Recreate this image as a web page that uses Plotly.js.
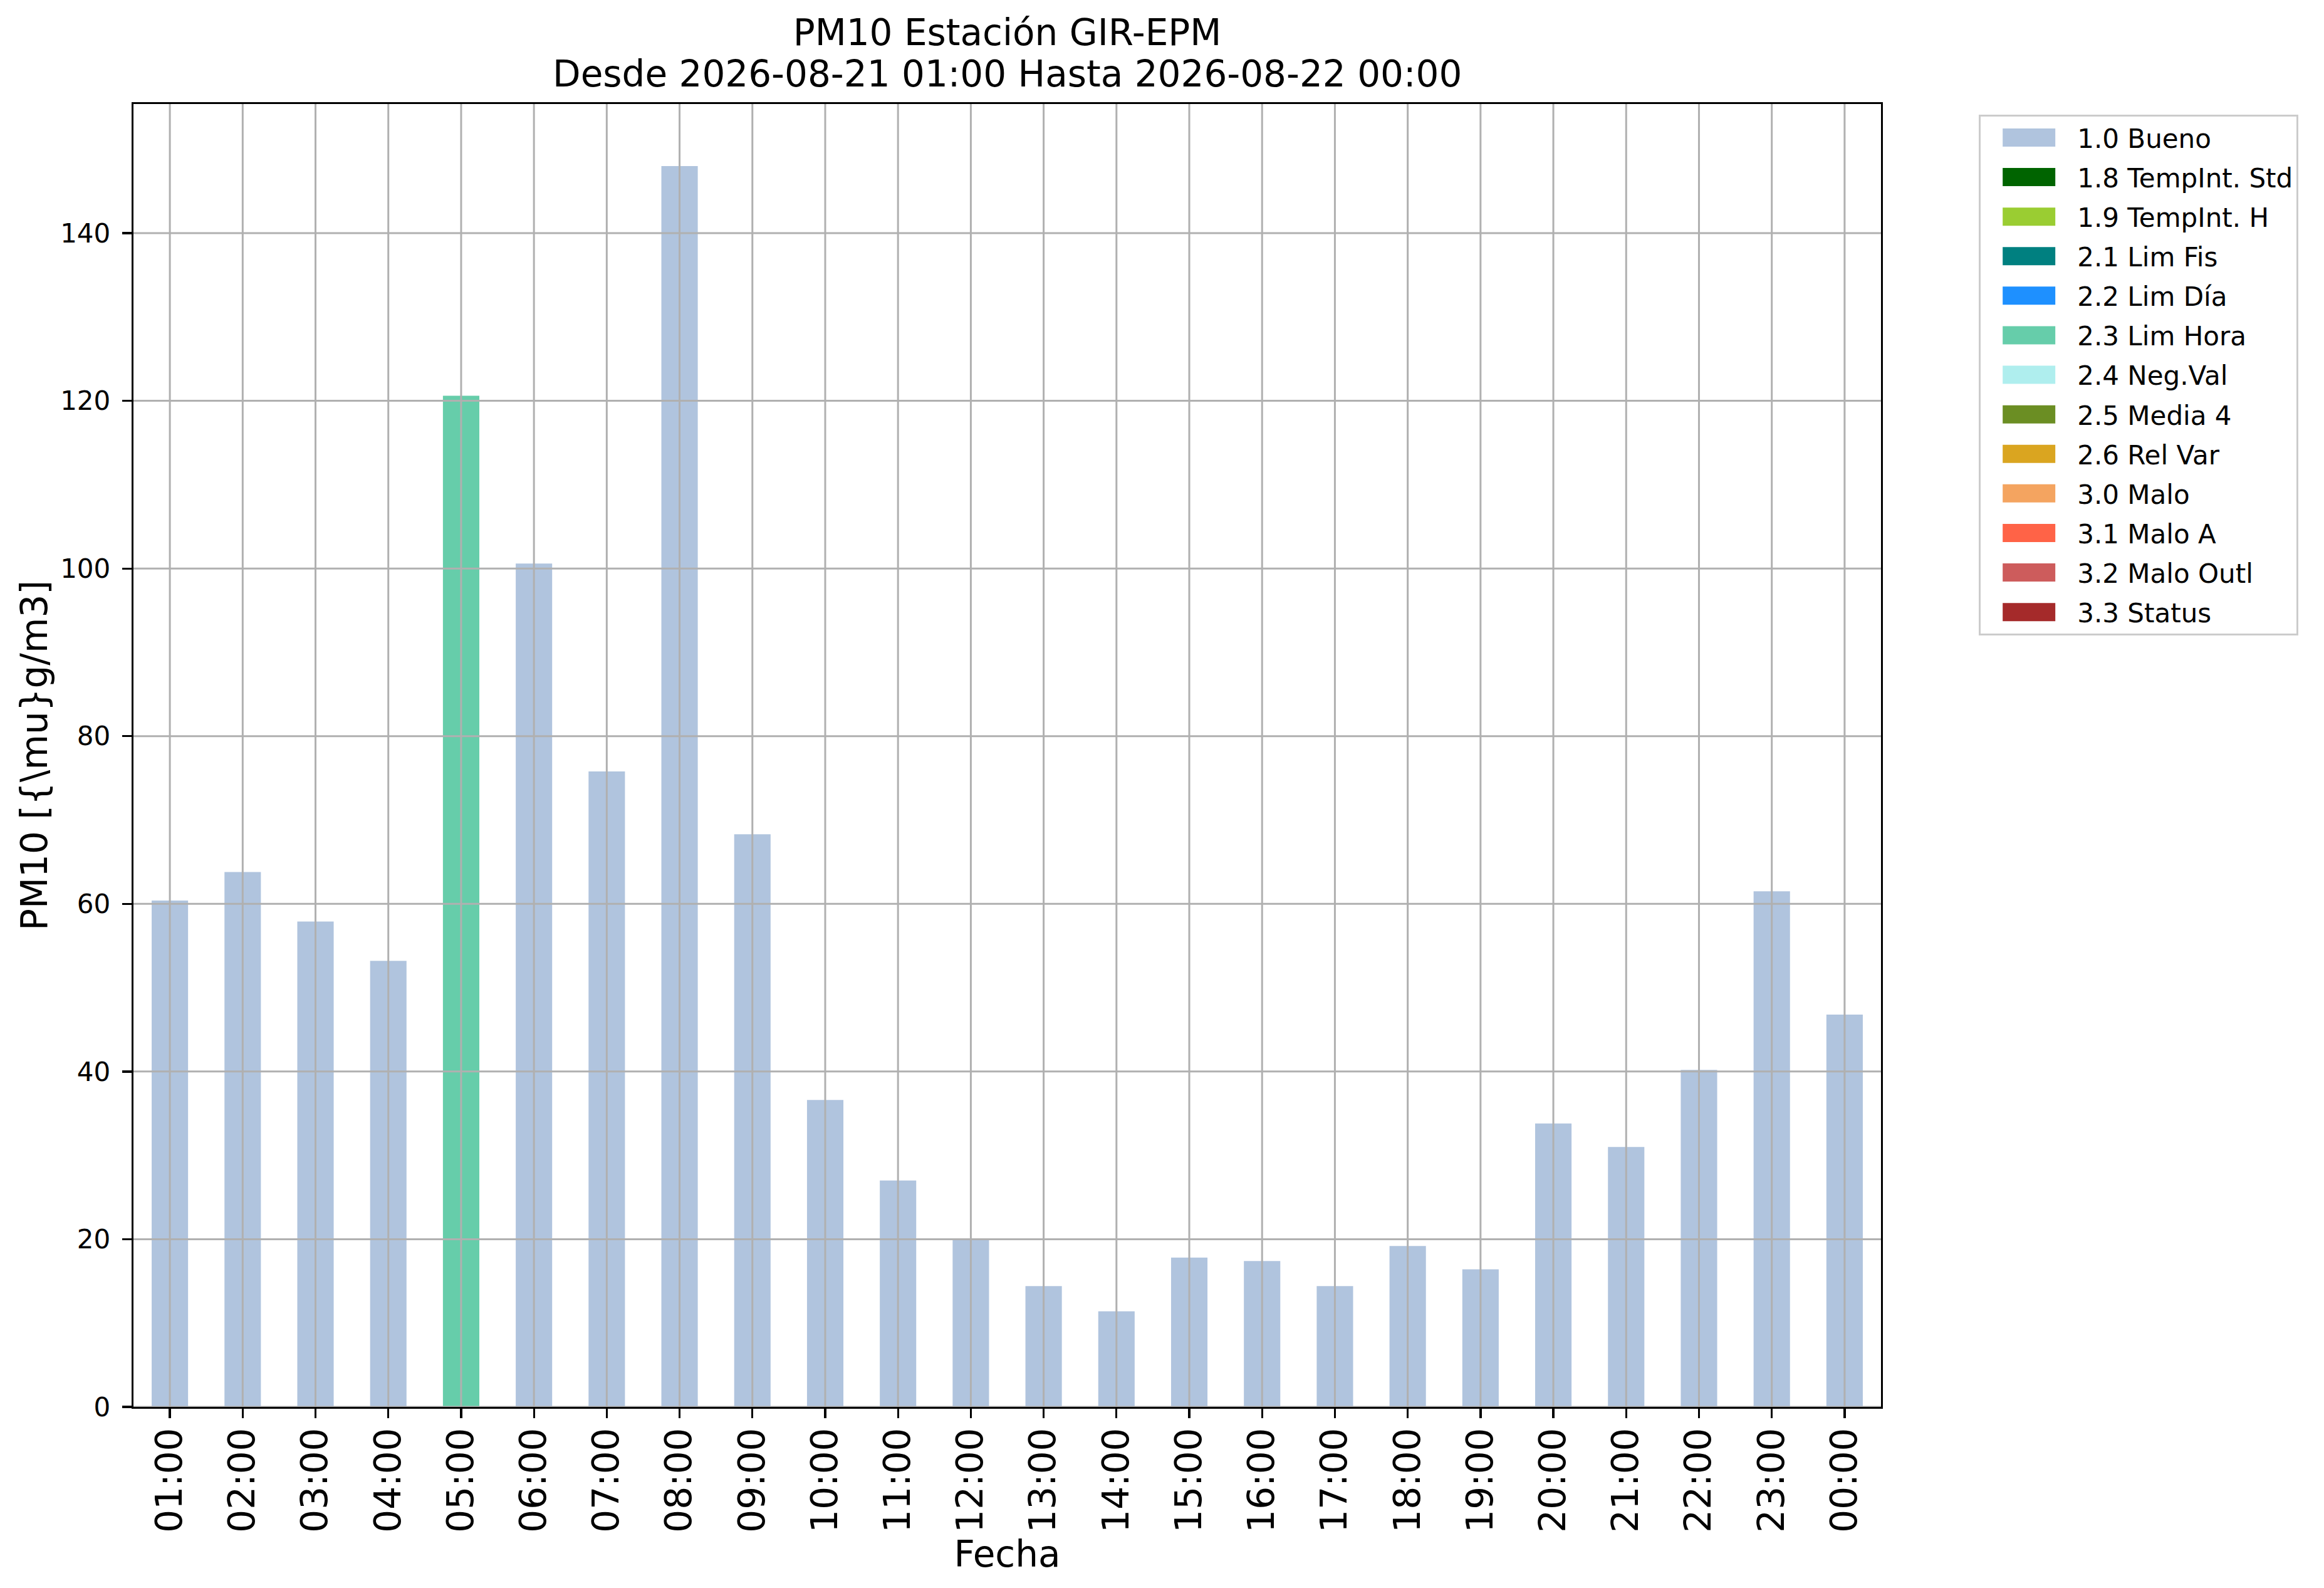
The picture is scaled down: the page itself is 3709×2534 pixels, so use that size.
<!DOCTYPE html>
<html>
<head>
<meta charset="utf-8">
<script src="https://cdn.plot.ly/plotly-3.0.1.min.js"></script>
<style>
  body { margin: 0; padding: 0; background: #fff; }
  #chart { width: 3709px; height: 2534px; }
</style>
</head>
<body>
<div id="chart"></div>
<script>
// hourly PM10 values
var hours = ['01:00','02:00','03:00','04:00','05:00','06:00','07:00','08:00','09:00','10:00','11:00','12:00',
             '13:00','14:00','15:00','16:00','17:00','18:00','19:00','20:00','21:00','22:00','23:00','00:00'];
var pm10 = [60.4, 63.8, 57.9, 53.2, 120.6, 100.6, 75.8, 148.0, 68.3, 36.6, 27.0, 20.0,
            14.4, 11.4, 17.8, 17.4, 14.4, 19.2, 16.4, 33.8, 31.0, 40.2, 61.5, 46.8];
// quality flag of every hour
var flags = ['1.0 Bueno','1.0 Bueno','1.0 Bueno','1.0 Bueno','2.3 Lim Hora','1.0 Bueno','1.0 Bueno','1.0 Bueno',
             '1.0 Bueno','1.0 Bueno','1.0 Bueno','1.0 Bueno','1.0 Bueno','1.0 Bueno','1.0 Bueno','1.0 Bueno',
             '1.0 Bueno','1.0 Bueno','1.0 Bueno','1.0 Bueno','1.0 Bueno','1.0 Bueno','1.0 Bueno','1.0 Bueno'];
var categories = ['1.0 Bueno','1.8 TempInt. Std','1.9 TempInt. H','2.1 Lim Fis','2.2 Lim Día','2.3 Lim Hora',
                  '2.4 Neg.Val','2.5 Media 4','2.6 Rel Var','3.0 Malo','3.1 Malo A','3.2 Malo Outl','3.3 Status'];
var colors = ['#B0C4DE','#006400','#9ACD32','#008080','#1E90FF','#66CDAA',
              '#AFEEEE','#6B8E23','#DAA520','#F4A460','#FF6347','#CD5C5C','#A52A2A'];
var yTicks = [0, 20, 40, 60, 80, 100, 120, 140];
var titleLine1 = 'PM10 Estación GIR-EPM';
var titleLine2 = 'Desde 2026-08-21 01:00 Hasta 2026-08-22 00:00';

var font = 'DejaVu Sans';
var gridColor = '#b0b0b0';

var data = [];
for (var c = 0; c < categories.length; c++) {
  var ys = [];
  for (var i = 0; i < hours.length; i++) {
    ys.push(flags[i] === categories[c] ? pm10[i] : null);
  }
  data.push({
    type: 'bar',
    name: categories[c],
    legendgroup: 'g' + c,
    x: hours,
    y: ys,
    width: 0.5,
    marker: { color: colors[c], line: { width: 0 } },
    hoverinfo: 'x+y+name'
  });
}

//grid drawn on top of the bars like the original
var shapes = [];
for (var h = 0; h < hours.length; h++) {
  shapes.push({ type: 'line', layer: 'above', xref: 'x', yref: 'paper',
    x0: hours[h], x1: hours[h], y0: 0, y1: 1, line: { color: gridColor, width: 3 } });
}
for (var t = 0; t < yTicks.length; t++) {
  shapes.push({ type: 'line', layer: 'above', xref: 'paper', yref: 'y',
    x0: 0, x1: 1, y0: yTicks[t], y1: yTicks[t], line: { color: gridColor, width: 3 } });
}

var layout = {
  width: 3709,
  height: 2534,
  margin: { l: 213, r: 707, t: 166, b: 289 },
  paper_bgcolor: '#ffffff',
  plot_bgcolor: '#ffffff',
  barmode: 'overlay',
  font: { family: font, color: '#000000' },
  title: {
    text: titleLine1,
    font: { family: font, size: 58, color: '#000000' },
    x: 0.5, xref: 'paper', xanchor: 'center',
    y: 0.9795, yref: 'container', yanchor: 'middle'
  },
  annotations: [{
    text: titleLine2,
    font: { family: font, size: 58, color: '#000000' },
    xref: 'paper', yref: 'paper', x: 0.5, y: 1.0231,
    xanchor: 'center', yanchor: 'middle', showarrow: false
  }],
  xaxis: {
    type: 'category',
    range: [-0.5, 23.5],
    showgrid: false,
    showline: true, mirror: true, linecolor: '#000000', linewidth: 3.3,
    ticks: 'outside', ticklen: 15, tickwidth: 3.3, tickcolor: '#000000',
    tickangle: -90,
    tickfont: { family: font, size: 58, color: '#000000' },
    ticklabelstandoff: -8,
    title: { text: 'Fecha', font: { family: font, size: 58, color: '#000000' }, standoff: 4 },
    automargin: false,
    zeroline: false
  },
  yaxis: {
    range: [0, Math.max.apply(null, pm10) * 1.05],
    tickmode: 'array',
    tickvals: yTicks,
    showgrid: false,
    showline: true, mirror: true, linecolor: '#000000', linewidth: 3.3,
    ticks: 'outside', ticklen: 15, tickwidth: 3.3, tickcolor: '#000000',
    tickfont: { family: font, size: 42, color: '#000000' },
    ticklabelstandoff: 10,
    title: { text: 'PM10 [{\\mu}g/m3]', font: { family: font, size: 58, color: '#000000' }, standoff: 2 },
    automargin: false,
    zeroline: false
  },
  showlegend: true,
  legend: {
    x: 1.056, xanchor: 'left', xref: 'paper',
    y: 0.992, yanchor: 'top', yref: 'paper',
    bgcolor: '#ffffff',
    bordercolor: '#cccccc',
    borderwidth: 3,
    font: { family: font, size: 42, color: '#000000' },
    itemwidth: 144,
    tracegroupgap: 5.5,
    traceorder: 'grouped'
  },
  shapes: shapes
};

Plotly.newPlot('chart', data, layout, { displayModeBar: false, staticPlot: true }).then(function () {
  // wide swatches like matplotlib's legend patches
  var pts = document.querySelectorAll('.legend .legendpoints path');
  pts.forEach(function (p) {
    p.setAttribute('d', 'M42,14.5H-42V-14.5H42Z');
  });
});
</script>
</body>
</html>
